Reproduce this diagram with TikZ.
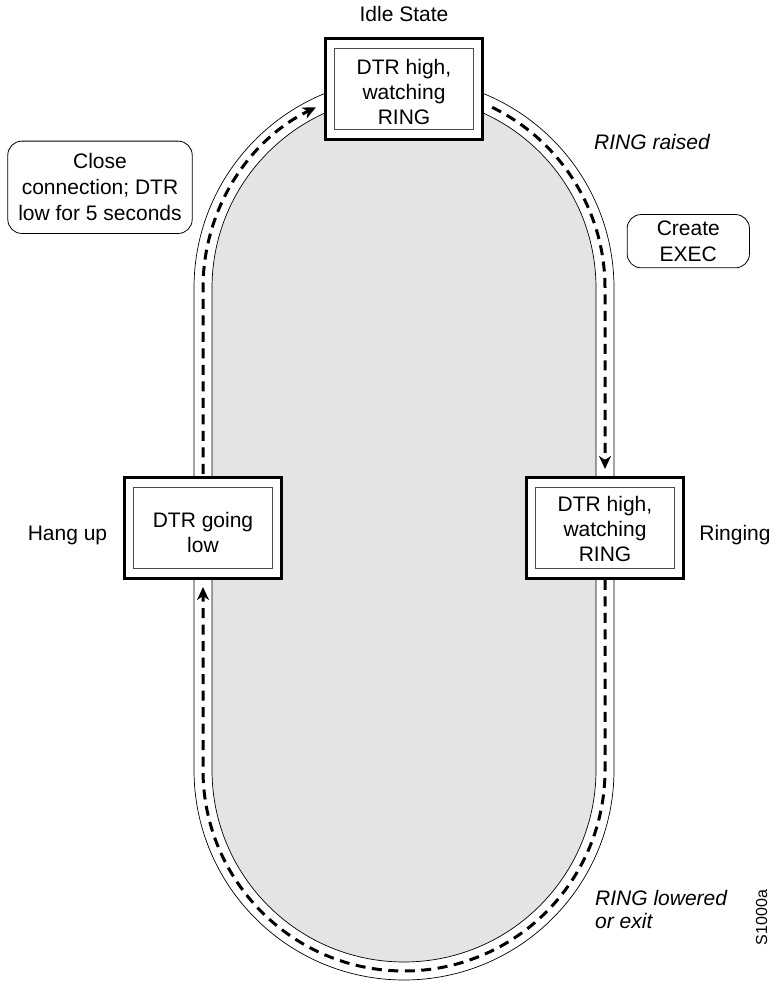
\documentclass[tikz,border=0pt]{standalone}
\usepackage{fontspec}
\setmainfont{Liberation Sans}
\usetikzlibrary{arrows.meta}
\definecolor{trackgray}{RGB}{228,228,228}
\newcommand{\TrackR}{201}
\newcommand{\TrackOut}{210}
\newcommand{\TrackIn}{192}

\begin{document}
\begin{tikzpicture}[x=1pt, y=1pt,
  font=\fontsize{21}{25}\selectfont,
  stateout/.style={draw, line width=3pt, fill=white, minimum width=157.5pt, minimum height=101pt, inner sep=0pt},
  statein/.style={draw=black!70, line width=0.8pt, minimum width=138.7pt, minimum height=80.6pt, inner sep=0pt},
  statetxt/.style={align=center, inner sep=0pt},
  action/.style={draw, line width=0.8pt, rounded corners=14pt, align=center, inner sep=0pt, font=\fontsize{21}{26}\selectfont},
  note/.style={align=left, inner sep=0pt, font=\fontsize{21}{23.5}\selectfont\itshape},
  flow/.style={line width=3pt, dash pattern=on 10pt off 6.5pt, -{Stealth[length=13pt, width=12pt, inset=4pt]}},
  track/.style={line width=0.7pt}]

\useasboundingbox (0,0) rectangle (773,981);

% centres of the two bends
\coordinate (tc) at (404,693);
\coordinate (bc) at (404,211);
\coordinate (tl) at (404-\TrackR,693);
\coordinate (tr) at (404+\TrackR,693);
\coordinate (bl) at (404-\TrackR,211);
\coordinate (br) at (404+\TrackR,211);

% the track
\fill[trackgray] (404-\TrackIn,693) -- (404-\TrackIn,211) arc[start angle=180, end angle=360, radius=\TrackIn]
  -- (404+\TrackIn,693) arc[start angle=0, end angle=180, radius=\TrackIn] -- cycle;
\draw[track] (404-\TrackIn,693) -- (404-\TrackIn,211) arc[start angle=180, end angle=360, radius=\TrackIn]
  -- (404+\TrackIn,693) arc[start angle=0, end angle=180, radius=\TrackIn] -- cycle;
\draw[track] (404-\TrackOut,693) -- (404-\TrackOut,211) arc[start angle=180, end angle=360, radius=\TrackOut]
  -- (404+\TrackOut,693) arc[start angle=0, end angle=180, radius=\TrackOut] -- cycle;

% states
\node[stateout] (idle) at (404,892) {};
\node[statein] (idlein) at (idle) {};
\node[statetxt] (idletxt) at ([yshift=-3pt]idle) {DTR high,\\watching\\RING};
\node (idlelbl) at (404,967) {Idle State};

\node[stateout] (hang) at (203,453) {};
\node[statein] (hangin) at (hang) {};
\node[statetxt] (hangtxt) at ([yshift=-5pt]hang) {DTR going\\low};
\node[anchor=base] (hanglbl) at (67.5,440) {Hang up};

\node[stateout] (ring) at (605,453) {};
\node[statein] (ringin) at (ring) {};
\node[statetxt] (ringtxt) at ([yshift=-1pt]ring) {DTR high,\\watching\\RING};
\node[anchor=base] (ringlbl) at (735,440) {Ringing};

% transitions
\draw[flow, shorten <=2pt] (hang.north) -- (tl) arc[start angle=180, end angle=116, radius=\TrackR];
\draw[flow, shorten >=7pt] ([shift={(64:\TrackR)}]tc) arc[start angle=64, end angle=0, radius=\TrackR] -- (ring.north);
\draw[flow, shorten >=7pt] (ring.south) -- (br) arc[start angle=0, end angle=-180, radius=\TrackR] -- (hang.south);

% actions and events
\node[action, minimum width=184.4pt, minimum height=92.3pt] (close) at (100,793.7) {Close\\connection; DTR\\low for 5 seconds};
\node[action, minimum width=122.3pt, minimum height=53.3pt] (exec) at (688.3,739.8) {Create\\EXEC};
\node[note, anchor=base west] (raised) at (594,831.7) {RING raised};
\node[note, anchor=north west] (lowered) at (595,91) {RING lowered\\or exit};

\node[rotate=90, font=\fontsize{16}{19}\selectfont] (figid) at (761.7,63.5) {S1000a};

\end{tikzpicture}
\end{document}
